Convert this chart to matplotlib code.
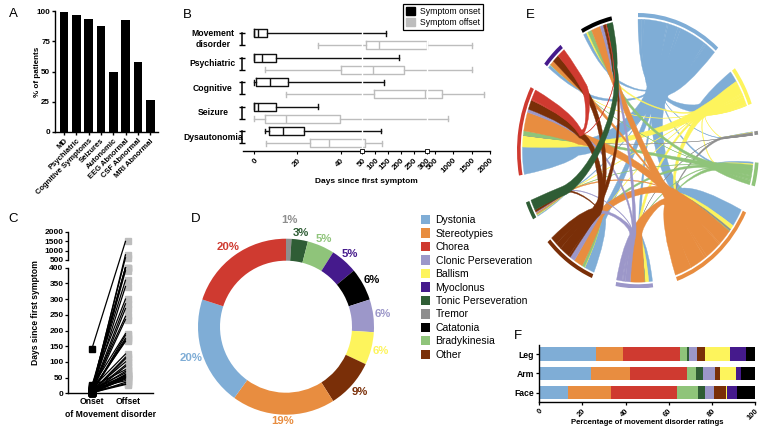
import numpy as np
import matplotlib
matplotlib.use("Agg")
import matplotlib.pyplot as plt
from matplotlib.patches import Patch, PathPatch, Wedge
from matplotlib.path import Path

plt.rcParams["font.family"] = ["Liberation Sans", "DejaVu Sans"]
plt.rcParams["axes.linewidth"] = 1.0

W, H = 772, 438

# colours of the movement categories
blue, orange, red = "#7fadd6", "#e88d40", "#cf3a30"
lilac, yellow, purple = "#9c97c9", "#fdf45c", "#451a8c"
dkgreen, grey, black = "#2f5d35", "#8e8e8e", "#000000"
green, brown = "#8fc47a", "#7a2f08"

# panel A
a_labels = ["MD", "Psychiatric", "Cognitive Symptoms", "Seizures", "Autonomic",
            "EEG Abnormal", "CSF Abnormal", "MRI Abnormal"]
a_values = [99, 96.7, 93.4, 87.6, 49.7, 92.5, 57.5, 26.8]

# panel B, days: low whisker, q1, median, q3, high whisker
b_cats = ["Movement\ndisorder", "Psychiatric", "Cognitive", "Seizure", "Dysautonomia"]
b_onset = [[0, 0, 2, 6, 141.6],
           [0, 0, 3.5, 10.3, 192.7],
           [0, 0.8, 7.5, 15.5, 136],
           [0, 0, 2, 10, 29.7],
           [5, 7, 13.4, 23, 120.7]]
b_offset = [[29.7, 63, 114, 304, 1494],
            [5, 40.3, 92, 211, 1494],
            [15, 97, 293, 690, 1830],
            [0, 5.2, 15, 39.7, 843],
            [5.7, 26, 34.8, 59, 124.6]]
b_ticks = [0, 20, 40, 50, 100, 150, 200, 250, 300, 500, 1000, 1500, 2000]

# panel C
c_onset = [140, 5, 10, 2, 20, 8, 0, 14, 3, 25, 6, 1, 12, 4, 18, 0, 7, 2, 10, 15,
           5, 1, 9, 3, 0, 22, 6, 11, 2, 0, 4, 13, 1, 8, 0, 3, 16, 0, 5, 2]
c_offset = [1494, 780, 620, 400, 400, 400, 390, 360, 340, 300, 285, 270, 245, 235,
            190, 185, 175, 170, 165, 125, 115, 110, 100, 90, 85, 75, 70, 65, 60, 58,
            55, 55, 52, 50, 48, 45, 40, 35, 30, 28]
c_yticks = [0, 50, 100, 150, 200, 250, 300, 350, 400, 500, 1000, 1500, 2000]

# panel D, clockwise from the top
d_names = ["Tremor", "Tonic Perseveration", "Bradykinesia", "Myoclonus", "Catatonia",
           "Clonic Perseveration", "Ballism", "Other", "Stereotypies", "Dystonia", "Chorea"]
d_values = [1, 3, 5, 5, 6, 6, 6, 9, 19, 20, 20]
legend_names = ["Dystonia", "Stereotypies", "Chorea", "Clonic Perseveration", "Ballism",
                "Myoclonus", "Tonic Perseveration", "Tremor", "Catatonia", "Bradykinesia", "Other"]
colors = {"Dystonia": blue, "Stereotypies": orange, "Chorea": red, "Clonic Perseveration": lilac,
          "Ballism": yellow, "Myoclonus": purple, "Tonic Perseveration": dkgreen, "Tremor": grey,
          "Catatonia": black, "Bradykinesia": green, "Other": brown}

# panel E, flows per sector in clockwise order (partner, width in degrees)
DY, BA, TR, BR, ST, CL, OT, TN, CH, MY, CA = ("Dystonia", "Ballism", "Tremor", "Bradykinesia",
    "Stereotypies", "Clonic Perseveration", "Other", "Tonic Perseveration", "Chorea", "Myoclonus", "Catatonia")
sectors = [DY, BA, TR, BR, ST, CL, OT, TN, CH, MY, CA]
links_dy = [(CA, 1.6), (MY, 1.5), (CH, 11.5), (TN, 0.6), (OT, 5), (CL, 1.5), (ST, 13.4), (BR, 0.8), (TR, 0.2), (BA, 5.4)]
links_ba = [(DY, 5), (CA, 0.7), (MY, 0.2), (CH, 5), (TN, 0.3), (OT, 0.2), (CL, 1.2), (ST, 3.4), (BR, 0.6), (TR, 0.2)]
links_tr = [(DY, 0.2), (BA, 0.2), (ST, 1), (CH, 0.1), (CL, 0.1)]
links_br = [(DY, 0.8), (BA, 0.5), (CA, 2), (MY, 0.1), (CH, 2.5), (TN, 0.3), (OT, 1.5), (CL, 0.5), (ST, 1.8)]
links_st = [(DY, 8), (BA, 2), (TR, 0.8), (BR, 0.3), (OT, 7), (TN, 0.6), (CH, 8), (MY, 1.2), (CA, 8), (CL, 8.5)]
links_cl = [(DY, 1.9), (BA, 1.8), (TR, 0.1), (BR, 0.2), (ST, 7), (CA, 2.5), (CH, 1.2), (TN, 0.4), (OT, 2.8)]
links_ot = [(DY, 5), (BA, 0.2), (BR, 1.3), (ST, 4.5), (CL, 2.5), (TN, 0.9), (CH, 5.2), (MY, 2.9), (CA, 3.5)]
links_tn = [(DY, 0.5), (BA, 0.3), (BR, 0.3), (ST, 0.6), (CL, 0.4), (OT, 1), (CA, 4.7)]
links_ch = [(DY, 12), (BA, 5), (TR, 0.1), (BR, 2), (ST, 8.3), (CL, 1.4), (OT, 4.2), (CA, 0.4), (MY, 4.5)]
links_my = [(DY, 1.5), (BA, 0.1), (BR, 0.1), (ST, 2), (OT, 3.3), (CH, 4)]
links_ca = [(DY, 1.6), (BA, 0.8), (BR, 2), (ST, 4.6), (CL, 1.6), (OT, 1.3), (CH, 0.3), (TN, 3.2)]
all_links = [links_dy, links_ba, links_tr, links_br, links_st, links_cl,
             links_ot, links_tn, links_ch, links_my, links_ca]

# panel F
f_cats = ["Face", "Arm", "Leg"]
f_order = [DY, ST, CH, BR, TN, CL, OT, BA, MY, CA]
f_leg = [26.3, 12.5, 26.6, 3.2, 0.8, 3.9, 3.4, 11.9, 7.2, 4.2]
f_arm = [24, 18, 26.5, 4.1, 3.1, 5.6, 2.5, 7.2, 2.5, 6.5]
f_face = [13.4, 19.7, 30.6, 10, 3.3, 4, 5.7, 0.5, 4.5, 8.3]

fig = plt.figure(figsize=(W / 100, H / 100), dpi=100)


def px_axes(l, t, r, b):
    return fig.add_axes([l / W, 1 - b / H, (r - l) / W, (b - t) / H])


def clean(ax):
    ax.spines["top"].set_visible(False)
    ax.spines["right"].set_visible(False)


def letter(s, x, y):
    fig.text(x / W, 1 - y / H, s, fontsize=9.5, ha="center", va="center")


for s, x, y in [("A", 13, 14), ("B", 187, 15), ("C", 13, 219), ("D", 196, 219), ("E", 530, 15), ("F", 518, 336)]:
    letter(s, x, y)

# A
ax = px_axes(55, 11, 158.3, 132)
clean(ax)
ax.bar(range(len(a_values)), a_values, width=0.7, color="k")
ax.set_xlim(-0.73, 7.65)
ax.set_ylim(0, 100)
ax.set_yticks([0, 25, 50, 75, 100])
ax.set_xticks(range(len(a_labels)))
ax.set_xticklabels(a_labels, rotation=45, ha="right", rotation_mode="anchor", fontsize=5.5, fontweight="bold")
ax.tick_params(axis="y", labelsize=5.8, length=2.5, width=1, pad=1)
ax.tick_params(axis="x", length=2.5, width=1, pad=1.5)
for t in ax.get_yticklabels():
    t.set_fontweight("bold")
ax.set_ylabel("% of patients", fontsize=5.8, fontweight="bold", labelpad=-3)


# B
b_days = [-5, 0, 50, 300, 500, 2000]
b_pix = [243.2, 254, 362.3, 426.7, 435, 490.3]


def b_fwd(x):
    return np.interp(x, b_days, b_pix)


def b_inv(x):
    return np.interp(x, b_pix, b_days)


ax = px_axes(243.2, 25, 490.3, 151.3)
clean(ax)
ax.spines["left"].set_visible(False)
ax.set_xscale("function", functions=(b_fwd, b_inv))


def box_stats(row):
    return [{"whislo": r[0], "q1": r[1], "med": r[2], "q3": r[3], "whishi": r[4], "fliers": []} for r in row]


for row, off, col in [(b_offset, 0.25, "#bdbdbd"), (b_onset, -0.25, "#111111")]:
    line = {"color": col, "linewidth": 1.0}
    ax.bxp(box_stats(row), positions=[i + off for i in range(5)], widths=0.33, capwidths=0.2,
           orientation="horizontal", showfliers=False, manage_ticks=False,
           boxprops=line, medianprops=line, whiskerprops=line, capprops=line)
ax.set_xlim(-5, 2000)
ax.set_ylim(4.58, -0.585)
ax.vlines([50, 300], -0.5, 4.45, color="white", lw=1.0, zorder=5)
ax.plot([50, 300], [4.58, 4.58], ls="none", marker="s", ms=2.2, mfc="white", mec="k", mew=0.6, clip_on=False, zorder=6)
ax.set_xticks(b_ticks)
ax.set_xticklabels([str(v) for v in b_ticks], rotation=45, ha="right", rotation_mode="anchor", fontsize=5.8, fontweight="bold")
ax.xaxis.set_minor_locator(plt.NullLocator())
ax.tick_params(axis="x", length=2.5, width=0.8, pad=1.5)
ax.set_yticks([])
ax.set_xlabel("Days since first symptom", fontsize=6, fontweight="bold", labelpad=2)
for i, c in enumerate(b_cats):
    ax.plot([-0.005, -0.005], [i - 0.25, i + 0.25], color="k", lw=1.1, marker="_", ms=4, mew=1.0,
            transform=ax.get_yaxis_transform(), clip_on=False)
    fig.text(213 / W, 1 - (39.3 + 24.45 * i) / H, c, fontsize=6.2, fontweight="bold", ha="center", va="center", linespacing=1.25)
fig.legend(handles=[Patch(facecolor="k", edgecolor="k", label="Symptom onset"),
                    Patch(facecolor="#bdbdbd", edgecolor="#bdbdbd", label="Symptom offset")],
           loc="upper left", bbox_to_anchor=(403 / W, 1 - 4 / H), borderaxespad=0, fontsize=6.2, fancybox=False,
           edgecolor="k", framealpha=1, handlelength=1, handleheight=1, handletextpad=0.6, labelspacing=0.25,
           borderpad=0.35).get_frame().set_linewidth(0.9)

# C
c_days = [0, 400, 500, 1000, 1500, 2000]
c_pix = [0, 125.6, 133.3, 142.6, 152, 161.6]


def c_fwd(y):
    return np.interp(y, c_days, c_pix)


def c_inv(y):
    return np.interp(y, c_pix, c_days)


ax = px_axes(67.7, 231.7, 152.7, 393.3)
clean(ax)
ax.spines["left"].set_visible(False)
ax.set_yscale("function", functions=(c_fwd, c_inv))
ax.plot([1] * len(c_offset), c_offset, ls="none", marker="s", ms=4.4, color="#bdbdbd", zorder=2, clip_on=False)
for a, b in zip(c_onset, c_offset):
    ax.plot([0, 0.92], [a, b], color="k", lw=0.9, zorder=3, clip_on=False)
ax.plot([0] * len(c_onset), c_onset, ls="none", marker="s", ms=4, color="k", zorder=4, clip_on=False)
ax.set_xlim(-0.654, 1.662)
ax.set_ylim(0, 2000)
ax.plot([0, 0], [0, 400], color="k", lw=1, transform=ax.get_yaxis_transform(), clip_on=False)
ax.plot([0, 0], [500, 2000], color="k", lw=1, transform=ax.get_yaxis_transform(), clip_on=False)
ax.set_yticks(c_yticks)
ax.set_yticklabels([str(v) for v in c_yticks], fontsize=6, fontweight="bold")
ax.yaxis.set_minor_locator(plt.NullLocator())
ax.tick_params(axis="y", length=2.5, width=0.9, pad=0.5)
ax.set_xticks([0, 1])
ax.set_xticklabels(["Onset", "Offset"], fontsize=6.2, fontweight="bold")
ax.tick_params(axis="x", length=0, pad=3)
ax.set_xlabel("of Movement disorder", fontsize=6.2, fontweight="bold", labelpad=2.5)
ax.set_ylabel("Days since first symptom", fontsize=6.2, fontweight="bold", labelpad=3)

# D
ax = px_axes(198, 238.7, 374, 414.7)
d_cols = [colors[n] for n in d_names]
ax.pie(d_values, colors=d_cols, startangle=90, counterclock=False, radius=1,
       wedgeprops={"width": 0.25, "linewidth": 0})
ax.set_xlim(-1, 1)
ax.set_ylim(-1, 1)
label_r = [1.21, 1.08, 1.09, 1.1, 1.11, 1.11, 1.11, 1.12, 1.07, 1.137, 1.12]
cum = 0
for v, c, r in zip(d_values, d_cols, label_r):
    ang = np.deg2rad(90 - (cum + v / 2) * 3.6)
    cum += v
    ax.text(r * np.cos(ang), r * np.sin(ang), "%d%%" % v, color=c, fontsize=8.2, fontweight="bold",
            ha="center", va="center", clip_on=False)
fig.legend(handles=[Patch(facecolor=colors[n], label=n) for n in legend_names],
           loc="upper left", bbox_to_anchor=(421 / W, 1 - 215 / H), borderaxespad=0, frameon=False, fontsize=7.5,
           handlelength=0.85, handleheight=1.0, handletextpad=0.55, labelspacing=0.31, borderpad=0)

# E, chord diagram squeezed into an ellipse
ax = px_axes(517, 13, 759, 288.4)
ax.set_xlim(-1, 1)
ax.set_ylim(-1, 1)
ax.axis("off")
GAP = 11.7
R_IN = 0.955
K_POS = 0.4  # how much a sector bunches up at its waist
K_WID = 1.2


def pt(deg, r=1.0):
    t = np.deg2rad(deg)
    return (r * np.sin(t), r * np.cos(t))


ends = {}
mids = {}
spans = {}
theta = 0
for name, lst in zip(sectors, all_links):
    start = theta
    for partner, w in lst:
        ends[(name, partner)] = (theta, theta + w)
        theta += w
    mids[name] = (start + theta) / 2
    spans[name] = theta - start
    ax.add_patch(Wedge((0, 0), 1.0, 90 - theta, 90 - start, width=0.03, color=colors[name], lw=0))
    theta += GAP


def arc(a, b):
    return [pt(d, R_IN) for d in np.linspace(a, b, 12)[1:]]


def waist(name, lo, hi):
    # both edges of a ribbon where it leaves the fan of its sector
    r = 0.72 - spans[name] * 0.006
    c = mids[name] + ((lo + hi) / 2 - mids[name]) * K_POS
    half = (hi - lo) / 2 * K_WID
    return (c - half, r), (c + half, r)


def half_edge(a_deg, w_a, b_deg, w_b):
    # arc point, into the waist of a, across to the waist of b, out to the arc point of b
    sep = abs(w_a[0] - w_b[0]) % 360
    sep = min(sep, 360 - sep)
    f = 1 - 0.5 * min(1, sep / 120)
    verts = [pt(a_deg, w_a[1] + 0.12), pt(*w_a),
             pt(w_a[0], w_a[1] * f), pt(w_b[0], w_b[1] * f), pt(*w_b),
             pt(b_deg, w_b[1] + 0.12), pt(b_deg, R_IN)]
    codes = [Path.CURVE3, Path.CURVE3, Path.CURVE4, Path.CURVE4, Path.CURVE4, Path.CURVE3, Path.CURVE3]
    return verts, codes


for i, name in enumerate(sectors):
    for partner, w in all_links[i]:
        if sectors.index(partner) < i:
            continue
        a0, a1 = ends[(name, partner)]
        b0, b1 = ends[(partner, name)]
        wa0, wa1 = waist(name, a0, a1)
        wb0, wb1 = waist(partner, b0, b1)
        verts = [pt(a0, R_IN)] + arc(a0, a1)
        codes = [Path.MOVETO] + [Path.LINETO] * 11
        v, c = half_edge(a1, wa1, b0, wb0)
        verts += v
        codes += c
        verts += arc(b0, b1)
        codes += [Path.LINETO] * 11
        v, c = half_edge(b1, wb1, a0, wa0)
        verts += v
        codes += c
        ax.add_patch(PathPatch(Path(verts, codes), facecolor=colors[name], edgecolor=colors[name], lw=0.25))

# F
ax = px_axes(539.3, 345, 755, 402.3)
clean(ax)
rows = [f_face, f_arm, f_leg]
left = np.zeros(3)
for j, name in enumerate(f_order):
    vals = np.array([r[j] for r in rows])
    ax.barh(f_cats, vals, left=left, height=0.69, color=colors[name], lw=0)
    left += vals
ax.set_xlim(0, 100)
ax.set_ylim(-0.5, 2.47)
ax.set_xticks([0, 20, 40, 60, 80, 100])
ax.set_xticklabels(["0", "20", "40", "60", "80", "100"], rotation=45, ha="right", rotation_mode="anchor", fontsize=5.5, fontweight="bold")
ax.tick_params(axis="x", length=2.5, width=0.9, pad=1)
ax.tick_params(axis="y", length=2.5, width=0.9, pad=1.5, labelsize=6.2)
for t in ax.get_yticklabels():
    t.set_fontweight("bold")
ax.set_xlabel("Percentage of movement disorder ratings", fontsize=5.6, fontweight="bold", labelpad=-1.5)

fig.savefig("out.png", dpi=100)
